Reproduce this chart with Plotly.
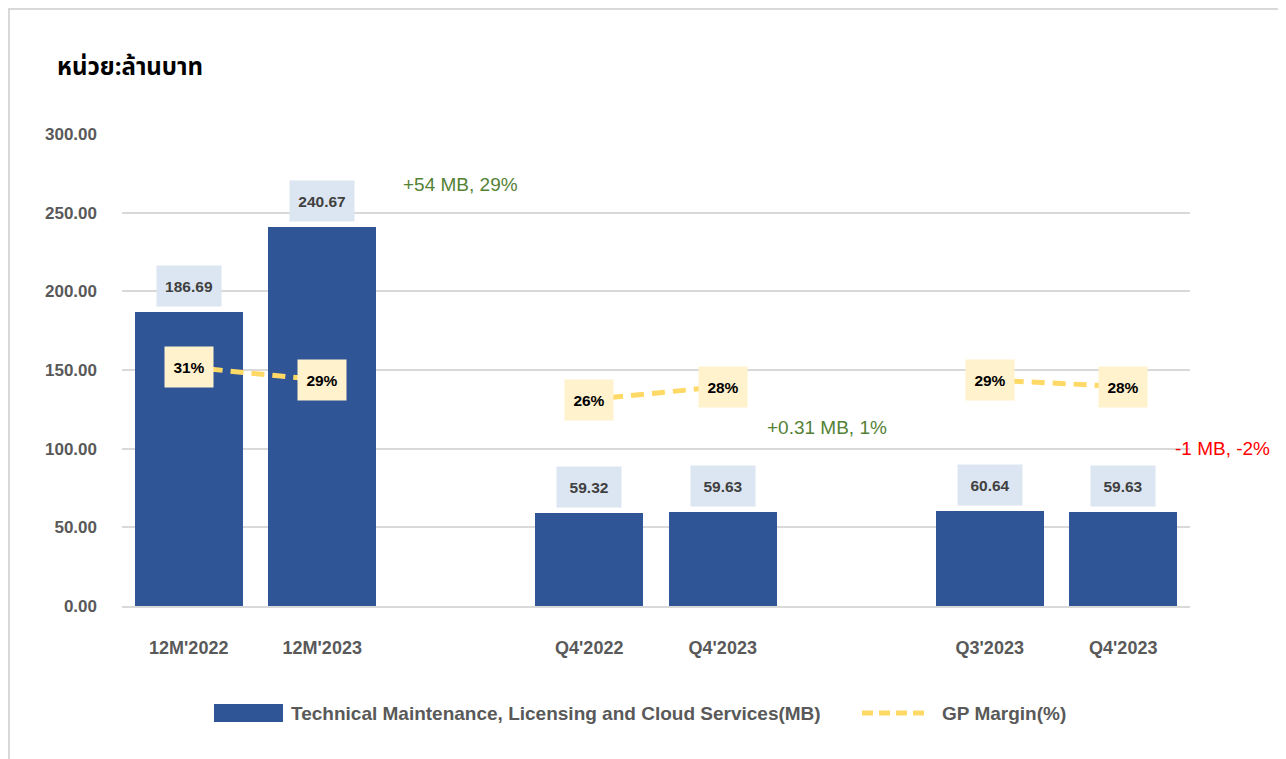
import plotly.graph_objects as go

# ---- data ----
groups = [["12M'2022", "12M'2023"], ["Q4'2022", "Q4'2023"], ["Q3'2023", "Q4'2023"]]
revenue_mb = [186.69, 240.67, 59.32, 59.63, 60.64, 59.63]
gp_margin_pct = [31, 29, 26, 28, 29, 28]
changes = ["+54 MB, 29%", "+0.31 MB, 1%", "-1 MB, -2%"]
change_colors = ["#548235", "#548235", "#FF0000"]
y_ticks = [0, 50, 100, 150, 200, 250, 300]
title_text = "หน่วย:ล้านบาท"
bar_name = "Technical Maintenance, Licensing and Cloud Services(MB)"
line_name = "GP Margin(%)"

# ---- positions (group slots with a gap between groups) ----
labels, xs = [], []
for gi, g in enumerate(groups):
    for i, lab in enumerate(g):
        labels.append(lab)
        xs.append(gi * 3 + i)

OFF = 8  # page body margin
W, H = 1286, 759
L, T = 122 - OFF, 134 - OFF
PW, PH = 1068, 472
R = W - L - PW
B = H - T - PH


def px(x):
    return (x - OFF - L) / PW


def py(y):
    return (T + PH - (y - OFF)) / PH


BAR = "#2F5597"
YEL = "#FFD966"
GRID = "#D9D9D9"
FONT = "Liberation Sans, Arial, sans-serif"

fig = go.Figure()
fig.add_trace(go.Bar(x=xs, y=revenue_mb, width=0.81, marker=dict(color=BAR, line=dict(width=0)),
                     name=bar_name, showlegend=False, hoverinfo="skip"))

# margin line, one segment per group
lx, ly = [], []
k = 0
for gi, g in enumerate(groups):
    for i in range(len(g)):
        lx.append(xs[k]); ly.append(gp_margin_pct[k]); k += 1
    lx.append(None); ly.append(None)
fig.add_trace(go.Scatter(x=lx, y=ly, yaxis="y2", mode="lines", connectgaps=False,
                         line=dict(color=YEL, width=5, dash="13px,8px"),
                         name=line_name, showlegend=False, hoverinfo="skip"))

ann = []
for x, v in zip(xs, revenue_mb):
    ann.append(dict(x=x, y=v, xref="x", yref="y", yanchor="bottom", yshift=5,
                    text=f"<b>{v:.2f}</b>", showarrow=False, width=64, height=40,
                    bgcolor="#DCE6F2", borderpad=0,
                    font=dict(family=FONT, size=15.5, color="#404040")))
for x, m in zip(xs, gp_margin_pct):
    ann.append(dict(x=x, y=m, xref="x", yref="y2", yanchor="middle",
                    text=f"<b>{m}%</b>", showarrow=False, width=48, height=40,
                    bgcolor="#FFF2CC", borderpad=0,
                    font=dict(family=FONT, size=15.5, color="#000000")))

# change annotations (positions in pixels of the layout)
change_pos = [(460, 184), (827, 427), (1222, 448)]
for (cx, cy), t, c in zip(change_pos, changes, change_colors):
    ann.append(dict(x=px(cx), y=py(cy), xref="paper", yref="paper", xanchor="center", yanchor="middle",
                    text=t, showarrow=False, font=dict(family=FONT, size=19, color=c)))

# title
ann.append(dict(x=px(55), y=py(68), xref="paper", yref="paper", xanchor="left", yanchor="middle",
                text=f"<b>{title_text}</b>", showarrow=False,
                font=dict(family="Tahoma, 'Noto Sans Thai', 'Leelawadee UI', sans-serif", size=24, color="#000000")))

# custom legend
ann.append(dict(x=px(289), y=py(713), xref="paper", yref="paper", xanchor="left", yanchor="middle",
                text=f"<b>{bar_name}</b>", showarrow=False, font=dict(family=FONT, size=19, color="#595959")))
ann.append(dict(x=px(940), y=py(713), xref="paper", yref="paper", xanchor="left", yanchor="middle",
                text=f"<b>{line_name}</b>", showarrow=False, font=dict(family=FONT, size=19, color="#595959")))

shapes = [
    # white boxes behind change labels (cover gridlines)
    dict(type="rect", xref="paper", yref="paper", x0=px(383), x1=px(567), y0=py(217), y1=py(152),
         fillcolor="white", line=dict(width=0), layer="between"),
    dict(type="rect", xref="paper", yref="paper", x0=px(747), x1=px(911), y0=py(452), y1=py(402),
         fillcolor="white", line=dict(width=0), layer="between"),
    dict(type="rect", xref="paper", yref="paper", x0=px(1155), x1=px(1192), y0=py(452), y1=py(425),
         fillcolor="white", line=dict(width=0), layer="between"),
    # legend symbols
    dict(type="rect", xref="paper", yref="paper", x0=px(214), x1=px(283), y0=py(722), y1=py(704),
         fillcolor=BAR, line=dict(width=0)),
    dict(type="line", xref="paper", yref="paper", x0=px(862), x1=px(930), y0=py(713), y1=py(713),
         line=dict(color=YEL, width=5, dash="11px,6px")),
    # outer frame (at the figure edge)
    dict(type="line", xref="paper", yref="paper", x0=px(OFF + 1), x1=px(1300), y0=py(OFF + 1), y1=py(OFF + 1),
         line=dict(color=GRID, width=2)),
    dict(type="line", xref="paper", yref="paper", x0=px(OFF + 1), x1=px(OFF + 1), y0=py(OFF), y1=py(780),
         line=dict(color=GRID, width=2)),
]

fig.update_layout(
    width=W, height=H, margin=dict(l=L, r=R, t=T, b=B, autoexpand=False),
    paper_bgcolor="white", plot_bgcolor="white",
    showlegend=False, annotations=ann, shapes=shapes, bargap=0,
    xaxis=dict(range=[-0.5, 7.5], tickmode="array", tickvals=xs, ticktext=labels,
               showgrid=False, zeroline=False, showline=True, linecolor=GRID, linewidth=2,
               ticks="", ticklabelstandoff=24,
               tickfont=dict(family=FONT, size=18, color="#595959", weight="bold")),
    yaxis=dict(range=[0, 300], tickmode="array", tickvals=y_ticks,
               ticktext=[f"{v:.2f}" for v in y_ticks],
               showgrid=True, gridcolor=GRID, gridwidth=1.5, zeroline=False, showline=False,
               ticks="", ticklabelstandoff=24,
               tickfont=dict(family=FONT, size=17, color="#595959", weight="bold")),
    yaxis2=dict(overlaying="y", range=[-5.85, 66.95], visible=False, showgrid=False),
)

fig.write_html("out.html")
